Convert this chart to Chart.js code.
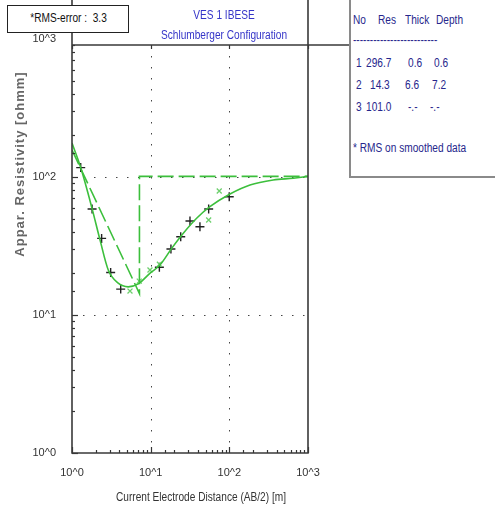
<!DOCTYPE html>
<html>
<head>
<meta charset="utf-8">
<script src="https://cdn.jsdelivr.net/npm/chart.js@4.4.1/dist/chart.umd.min.js"></script>
<style>
  body{margin:0;background:#fff;}
  #wrap{position:relative;width:495px;height:513px;overflow:hidden;}
  #wrap div{position:absolute;white-space:pre;font-family:'Liberation Sans',Arial,sans-serif;font-size:12.5px;line-height:14px;}
  /* the original uses a narrow face; squeeze the regular one */
  .n{transform:scaleX(0.81);transform-origin:left center;}
  .c{transform:scaleX(0.81);transform-origin:center center;}
  .rms{left:7px;top:5px;width:120px;height:26px;border:1.5px solid #222;background:#fff;}
  .rmst{left:7px;top:11px;width:123px;text-align:center;color:#111;}
  .ttl{left:124px;width:200px;text-align:center;color:#3535c8;}
  .panel{left:349px;top:0;width:146px;height:176px;border-left:2px solid #8a8a8a;border-bottom:2px solid #8a8a8a;background:#fff;}
  .p{color:#26268c;}
  .ytitle{left:-95px;top:157px;width:230px;text-align:center;transform:rotate(-90deg);font-weight:bold;font-size:13px !important;color:#666;letter-spacing:1px;}
  .xtitle{left:51px;top:490px;width:300px;text-align:center;color:#333;}
</style>
</head>
<body>
<div id="wrap">
  <canvas id="chart" width="495" height="513"></canvas>
  <div class="rms"></div>
  <div class="rmst c">*RMS-error :  3.3</div>
  <div class="ttl c" style="top:8px">VES 1 IBESE</div>
  <div class="ttl c" style="top:28px">Schlumberger Configuration</div>
  <div class="panel"></div>
  <div class="p n" style="left:353px;top:13px">No</div>
  <div class="p n" style="left:378px;top:13px">Res</div>
  <div class="p n" style="left:405px;top:13px">Thick</div>
  <div class="p n" style="left:436px;top:13px">Depth</div>
  <div class="p n" style="left:353px;top:33px">-------------------------</div>
  <div class="p n" style="left:356px;top:56px">1</div>
  <div class="p n" style="left:366px;top:56px">296.7</div>
  <div class="p n" style="left:408px;top:56px">0.6</div>
  <div class="p n" style="left:434px;top:56px">0.6</div>
  <div class="p n" style="left:356px;top:78px">2</div>
  <div class="p n" style="left:370px;top:78px">14.3</div>
  <div class="p n" style="left:405px;top:78px">6.6</div>
  <div class="p n" style="left:432px;top:78px">7.2</div>
  <div class="p n" style="left:356px;top:100px">3</div>
  <div class="p n" style="left:366px;top:100px">101.0</div>
  <div class="p n" style="left:408px;top:100px">-.-</div>
  <div class="p n" style="left:430px;top:100px">-.-</div>
  <div class="p n" style="left:353px;top:141px">* RMS on smoothed data</div>
  <div class="ytitle">Appar. Resistivity [ohmm]</div>
  <div class="xtitle c">Current Electrode Distance (AB/2) [m]</div>
</div>
<script>
// ---- data ----
// fitted (smoothed) curve
const fitX = [1.0, 1.29, 1.8, 2.27, 2.89, 3.87, 5.19, 6.96, 9.83, 13.1, 18.5, 26.0, 38.4, 56.6, 102, 183, 361, 650, 1000];
const fitY = [176, 117, 59, 35, 21.2, 17.0, 16.0, 16.8, 20.1, 23.0, 30.4, 39.1, 50.2, 60.9, 75.3, 87.5, 95.1, 98, 101];
// layered model (dashed)
const modelX = [1, 7.2, 7.2, 1000];
const modelY = [157, 14.3, 101, 101];
// observed field data (+)
const obsX = [1.29, 1.8, 2.38, 3.1, 4.16, 12.9, 18.1, 24.1, 31.6, 42.3, 54.6, 99.7];
const obsY = [117, 58.6, 35.9, 20.3, 15.4, 22.2, 30.1, 36.9, 48.0, 43.6, 58.6, 72];
// smoothed data (x)
const smX = [5.46, 7.16, 9.8, 12.9, 54.6, 74.4];
const smY = [14.9, 17.6, 21.2, 23.3, 48.8, 79.2];
// axis
const axisMin = 1, axisMax = 1000;
const gridVals = [10, 100];

const green = '#3cbf3c';
const FONT = "'Liberation Sans',Arial,sans-serif";

function pts(xs, ys){ return xs.map((x,i)=>({x:x, y:ys[i]})); }
function isDecade(v){ const e = Math.log10(v); return Math.abs(e - Math.round(e)) < 1e-9; }
function decadeLabel(v){ return isDecade(v) ? '10^' + Math.round(Math.log10(v)) : ''; }

const TOP_LINE = 45;

const framePlugin = {
    id:'frame',
    beforeDatasetsDraw(chart){
        const {ctx, chartArea:a, scales:{x,y}} = chart;
        ctx.save();
        ctx.strokeStyle = '#444';
        ctx.lineWidth = 1;
        ctx.setLineDash([1.5, 9.5]);
        gridVals.forEach(v=>{
            const px = Math.round(x.getPixelForValue(v)) + 0.5;
            ctx.beginPath(); ctx.moveTo(px, TOP_LINE); ctx.lineTo(px, a.bottom); ctx.stroke();
            const py = Math.round(y.getPixelForValue(v)) + 0.5;
            ctx.beginPath(); ctx.moveTo(a.left, py); ctx.lineTo(a.right, py); ctx.stroke();
        });
        ctx.restore();
    },
    afterDatasetsDraw(chart){
        const {ctx, chartArea:a, scales:{x,y}} = chart;
        ctx.save();
        ctx.strokeStyle = '#333';
        ctx.lineWidth = 1.2;
        // tick marks inside
        x.ticks.forEach(t=>{
            const px = Math.round(x.getPixelForValue(t.value)) + 0.5;
            const len = isDecade(t.value) ? 6 : 3;
            ctx.beginPath(); ctx.moveTo(px, a.bottom); ctx.lineTo(px, a.bottom - len); ctx.stroke();
            if(isDecade(t.value)){
                ctx.beginPath(); ctx.moveTo(px, TOP_LINE); ctx.lineTo(px, TOP_LINE + 4); ctx.stroke();
            }
        });
        y.ticks.forEach(t=>{
            const py = Math.round(y.getPixelForValue(t.value)) + 0.5;
            if(py < TOP_LINE) return;
            const len = isDecade(t.value) ? 6 : 3;
            ctx.beginPath(); ctx.moveTo(a.left, py); ctx.lineTo(a.left + len, py); ctx.stroke();
        });
        // frame
        ctx.lineWidth = 1.6;
        ctx.strokeStyle = '#3a3a3a';
        ctx.beginPath();
        ctx.moveTo(a.left, 0); ctx.lineTo(a.left, a.bottom); ctx.lineTo(a.right, a.bottom); ctx.lineTo(a.right, 0);
        ctx.moveTo(a.left, TOP_LINE); ctx.lineTo(349, TOP_LINE);
        ctx.stroke();
        ctx.restore();
    }
};

new Chart(document.getElementById('chart'), {
    type:'scatter',
    data:{
        datasets:[
            {
                data: pts(modelX, modelY),
                showLine:true, pointRadius:0,
                borderColor:green, borderWidth:1.6,
                borderDash:[16,5], tension:0
            },
            {
                data: pts(fitX, fitY),
                showLine:true, pointRadius:0,
                borderColor:green, borderWidth:1.6,
                cubicInterpolationMode:'monotone'
            },
            {
                data: pts(smX, smY),
                pointStyle:'crossRot', pointRadius:3.5,
                borderColor:'#6ccf6c', borderWidth:1.3
            },
            {
                data: pts(obsX, obsY),
                pointStyle:'cross', pointRadius:4.5,
                borderColor:'#222', borderWidth:1.4
            }
        ]
    },
    options:{
        responsive:false,
        animation:false,
        devicePixelRatio:1,
        layout:{padding:{top:39, right:187, left:0, bottom:0}},
        plugins:{legend:{display:false}, tooltip:{enabled:false}},
        scales:{
            x:{
                type:'logarithmic', min:axisMin, max:axisMax,
                grid:{display:false, drawTicks:false}, border:{display:false},
                ticks:{autoSkip:false, maxRotation:0, padding:13, color:'#333',
                    font:{family:FONT, size:11}, callback:v=>decadeLabel(v)},
                afterFit(s){ s.height = 60; }
            },
            y:{
                type:'logarithmic', min:axisMin, max:axisMax,
                grid:{display:false, drawTicks:false}, border:{display:false},
                ticks:{autoSkip:false, padding:16, color:'#333',
                    font:{family:FONT, size:11}, callback:v=>decadeLabel(v)},
                afterFit(s){ s.width = 72; }
            }
        }
    },
    plugins:[framePlugin]
});
</script>
</body>
</html>
